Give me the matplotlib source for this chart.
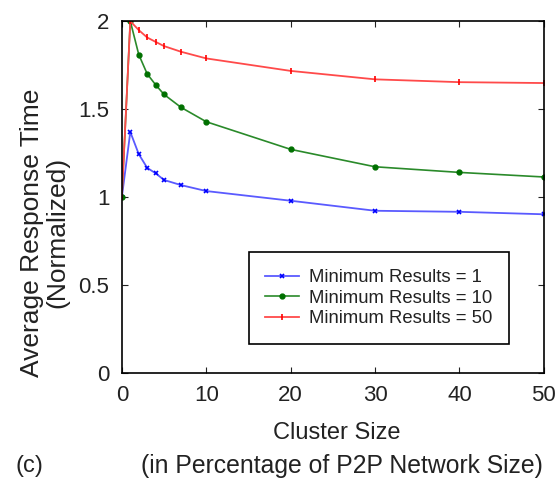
import numpy as np
import matplotlib
matplotlib.use('Agg')
import matplotlib.pyplot as plt

plt.rcParams['font.family'] = ['Liberation Sans', 'DejaVu Sans']

cluster_size = [0, 1, 2, 3, 4, 5, 7, 10, 20, 30, 40, 50]
min_res_1 = [1.0, 1.37, 1.244, 1.166, 1.135, 1.097, 1.068, 1.034, 0.979, 0.922, 0.916, 0.902]
min_res_10 = [1.0, 2.0, 1.81, 1.70, 1.638, 1.583, 1.51, 1.428, 1.271, 1.172, 1.14, 1.114]
min_res_50 = [1.0, 2.0, 1.949, 1.907, 1.882, 1.858, 1.826, 1.788, 1.717, 1.669, 1.653, 1.648]
labels = ['Minimum Results = 1', 'Minimum Results = 10', 'Minimum Results = 50']

fig = plt.figure(figsize=(5.59, 4.8), dpi=100)
ax = fig.add_axes([0.218, 0.223, 0.755, 0.733])

ax.plot(cluster_size, min_res_1, '-', color='#5a5aff', marker='x', markersize=3.5,
        markeredgecolor='#0000ff', markerfacecolor='#0000ff',
        markeredgewidth=1.2, linewidth=1.3, label=labels[0])
ax.plot(cluster_size, min_res_10, '-', color='#2a8a2a', marker='.', markersize=7,
        markeredgecolor='#007000', markerfacecolor='#007000',
        linewidth=1.2, label=labels[1])
ax.plot(cluster_size, min_res_50, '-', color='#ff4a4a', marker='|', markersize=5,
        markeredgecolor='#ff0000', markeredgewidth=1.2, linewidth=1.3, label=labels[2])

ax.set_xlim(0, 50)
ax.set_ylim(0, 2)
ax.set_xticks([0, 10, 20, 30, 40, 50])
ax.set_yticks([0, 0.5, 1, 1.5, 2])
ax.set_yticklabels(['0', '0.5', '1', '1.5', '2'])
ax.tick_params(direction='in', top=True, right=True, labelsize=16, length=4,
               pad=9, colors='#222222')
for s in ax.spines.values():
    s.set_linewidth(1.2)

ax.set_ylabel('Average Response Time\n(Normalized)', fontsize=19, linespacing=1.05,
              color='#222222')
ax.yaxis.set_label_coords(-0.125, 0.398)

# x label in two pieces, centred a little right of the axes middle
ax.set_xlabel('Cluster Size', fontsize=17, color='#222222')
ax.xaxis.set_label_coords(0.508, -0.14)
fig.text(0.611, 0.029, '(in Percentage of P2P Network Size)', fontsize=17.8,
         ha='center', va='center', color='#222222')
fig.text(0.028, 0.029, '(c)', fontsize=17, va='center', color='#222222')

leg = ax.legend(loc='lower right', bbox_to_anchor=(0.917, 0.082), borderaxespad=0,
                fontsize=13.3, fancybox=False, edgecolor='black', framealpha=1,
                handlelength=1.8, handletextpad=0.55, labelspacing=0.2,
                borderpad=0.9)
leg.get_frame().set_linewidth(1.2)
for t in leg.get_texts():
    t.set_color('#222222')

fig.savefig('out.png', dpi=100)
